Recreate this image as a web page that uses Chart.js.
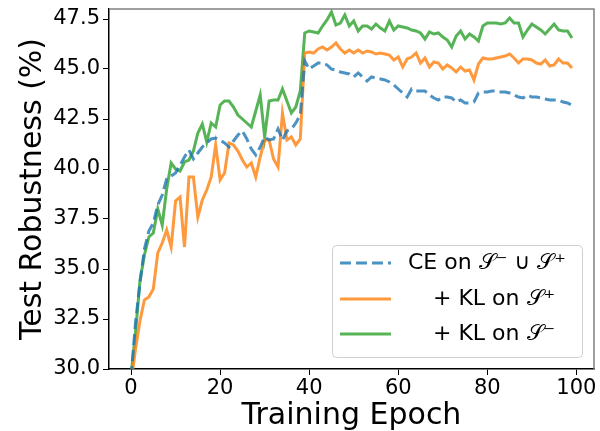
<!DOCTYPE html>
<html>
<head>
<meta charset="utf-8">
<script src="https://cdn.jsdelivr.net/npm/chart.js@4"></script>
<style>
  html, body { margin: 0; padding: 0; background: #fff; }
  #wrap { width: 600px; height: 431px; }
</style>
</head>
<body>
<div id="wrap"><canvas id="myChart" width="600" height="431"></canvas></div>
<script>
// epochs 0..99
const epochs = [...Array(100).keys()];

const seriesLabels = ['CE on \u{1D4AE}\u207B \u222A \u{1D4AE}\u207A', '+ KL on \u{1D4AE}\u207A', '+ KL on \u{1D4AE}\u207B'];

const ceValues = [
  29.6, 32.3, 34.3, 36.0, 36.9, 37.3, 38.2, 38.7, 39.5, 39.65,
  39.8, 40.2, 40.6, 40.95, 40.5, 40.8, 41.1, 41.3, 41.5, 41.55,
  41.45, 41.3, 41.1, 41.4, 41.7, 41.9, 41.5, 41.0, 40.7, 41.1,
  41.6, 41.45, 41.5, 42.0, 41.45, 41.9, 42.0, 42.3, 42.7, 45.4,
  45.0, 45.15, 45.3, 45.3, 45.2, 45.0, 44.95, 44.85, 44.8, 44.75,
  44.6, 44.8, 44.6, 44.4, 44.6, 44.55, 44.5, 44.45, 44.35, 44.2,
  44.0, 43.8, 43.6, 44.0, 43.9, 43.9, 43.9, 43.7, 43.55, 43.45,
  43.6, 43.6, 43.55, 43.35, 43.45, 43.3, 43.3, 43.35, 43.8, 43.85,
  43.85, 43.9, 43.9, 43.85, 43.85, 43.8, 43.7, 43.6, 43.55, 43.7,
  43.6, 43.6, 43.55, 43.5, 43.45, 43.45, 43.45, 43.35, 43.3, 43.2
];

const klPosValues = [
  29.3, 31.0, 32.4, 33.45, 33.6, 34.0, 35.8, 36.3, 36.95, 36.1,
  38.4, 38.6, 36.1, 39.6, 39.6, 37.6, 38.45, 38.95, 39.6, 41.2,
  39.45, 39.8, 41.3, 41.2, 40.9, 40.45, 40.1, 40.3, 39.6, 40.6,
  41.45, 41.45, 40.5, 40.1, 42.8, 41.45, 41.6, 41.2, 41.5, 45.8,
  45.85, 45.8, 46.0, 46.1, 45.95, 46.1, 46.3, 46.0, 45.8, 45.95,
  45.8, 45.95, 45.8, 45.9, 45.85, 45.75, 45.8, 45.75, 45.7, 45.45,
  45.6, 45.1, 45.5, 45.6, 45.8, 45.3, 45.55, 45.1, 45.35, 45.3,
  45.0, 45.2, 45.05, 44.85, 45.1, 44.9, 44.95, 44.45, 45.25, 45.55,
  45.5, 45.5, 45.55, 45.6, 45.65, 45.75, 45.55, 45.3, 45.5, 45.5,
  45.45, 45.3, 45.25, 45.45, 45.15, 45.2, 45.5, 45.3, 45.3, 45.05
];

const klNegValues = [
  29.7, 31.8, 34.4, 35.7, 36.6, 36.8, 38.0, 37.2, 39.0, 40.3,
  40.0, 39.9, 40.35, 40.45, 40.9, 41.8, 42.25, 41.35, 42.3, 42.1,
  43.2, 43.4, 43.4, 43.1, 42.7, 42.5, 42.3, 42.1, 42.9, 43.7,
  41.6, 43.4, 43.45, 43.45, 44.0, 43.4, 42.8, 43.1, 43.9, 46.8,
  46.9, 46.85, 46.8, 47.15, 47.45, 47.85, 47.2, 47.3, 47.7, 47.15,
  47.4, 46.9, 47.15, 47.15, 47.0, 47.25, 47.05, 46.9, 47.4, 46.95,
  47.15, 47.1, 47.05, 46.95, 46.9, 46.8, 46.5, 46.85, 46.75, 46.8,
  46.6, 46.45, 46.1, 46.65, 46.9, 46.5, 46.75, 46.6, 46.4, 47.15,
  47.3, 47.3, 47.3, 47.25, 47.3, 47.55, 47.3, 47.3, 46.6, 46.95,
  47.25, 47.1, 46.95, 46.75, 47.0, 47.25, 46.95, 46.9, 46.9, 46.55
];

const xTicks = [0, 20, 40, 60, 80, 100];
const yTicks = [30, 32.5, 35, 37.5, 40, 42.5, 45, 47.5];

const FONT = "'DejaVu Sans', sans-serif";

function toPoints(values) {
  return values.map((v, i) => ({ x: epochs[i], y: v }));
}

// draws top/right spines and the legend box inside the plot
const framePlugin = {
  id: 'framePlugin',
  afterDraw(chart) {
    const { ctx, chartArea } = chart;
    ctx.save();
    ctx.strokeStyle = '#808080';
    ctx.lineWidth = 1.5;
    ctx.beginPath();
    ctx.moveTo(chartArea.left, chartArea.top);
    ctx.lineTo(chartArea.right, chartArea.top);
    ctx.lineTo(chartArea.right, chartArea.bottom);
    ctx.stroke();

    // legend
    const bx = 332, by = 245, bw = 250, bh = 112;
    ctx.fillStyle = 'rgba(255,255,255,0.85)';
    ctx.strokeStyle = '#d0d0d0';
    ctx.lineWidth = 1;
    ctx.beginPath();
    ctx.roundRect(bx + 0.5, by + 0.5, bw, bh, 4);
    ctx.fill();
    ctx.stroke();

    const rowY = [263, 299, 334];
    const textX = [408, 433, 433];
    chart.data.datasets.forEach((ds, i) => {
      ctx.strokeStyle = ds.borderColor;
      ctx.lineWidth = ds.borderWidth;
      ctx.setLineDash(ds.borderDash || []);
      ctx.beginPath();
      ctx.moveTo(340, rowY[i]);
      ctx.lineTo(391, rowY[i]);
      ctx.stroke();
      ctx.setLineDash([]);
      ctx.fillStyle = '#000';
      ctx.font = '22px ' + FONT;
      ctx.textBaseline = 'middle';
      ctx.textAlign = 'left';
      ctx.fillText(ds.label, textX[i], rowY[i]);
    });
    ctx.restore();
  }
};

function mainEvent() {
  const target = document.querySelector('#myChart');

  const data = {
    datasets: [
      {
        label: seriesLabels[0],
        data: toPoints(ceValues),
        borderColor: 'rgba(31,119,180,0.8)',
        borderWidth: 3,
        borderDash: [11, 5],
        pointRadius: 0,
        tension: 0
      },
      {
        label: seriesLabels[1],
        data: toPoints(klPosValues),
        borderColor: 'rgba(255,127,14,0.8)',
        borderWidth: 3,
        pointRadius: 0,
        tension: 0
      },
      {
        label: seriesLabels[2],
        data: toPoints(klNegValues),
        borderColor: 'rgba(44,160,44,0.8)',
        borderWidth: 3,
        pointRadius: 0,
        tension: 0
      }
    ]
  };

  const config = {
    type: 'line',
    data: data,
    plugins: [framePlugin],
    options: {
      responsive: false,
      animation: false,
      layout: { padding: { top: 9, right: 6, left: 0, bottom: 0 } },
      plugins: { legend: { display: false }, tooltip: { enabled: false } },
      scales: {
        x: {
          type: 'linear',
          min: -4.95,
          max: 103.95,
          afterBuildTicks: (scale) => { scale.ticks = xTicks.map((v) => ({ value: v })); },
          afterFit: (scale) => {
            scale.height = 62;
            scale.paddingLeft = 0;
            scale.paddingRight = 0;
          },
          grid: { drawOnChartArea: false, tickLength: 6, tickColor: '#000', tickWidth: 1 },
          border: { color: '#000', width: 1.5 },
          ticks: { color: '#000', padding: 1, maxRotation: 0, font: { family: FONT, size: 21 }, callback: (v) => String(v) },
          title: { display: true, text: 'Training Epoch', color: '#000', padding: { bottom: 0, top: 0 }, font: { family: FONT, size: 30, lineHeight: 1 } }
        },
        y: {
          type: 'linear',
          min: 30,
          max: 48,
          afterBuildTicks: (scale) => { scale.ticks = yTicks.map((v) => ({ value: v })); },
          afterFit: (scale) => {
            scale.width = 109;
            scale.paddingTop = 0;
            scale.paddingBottom = 0;
          },
          grid: { drawOnChartArea: false, tickLength: 6, tickColor: '#000', tickWidth: 1 },
          border: { color: '#000', width: 1.5 },
          ticks: { color: '#000', padding: 3, font: { family: FONT, size: 21 }, callback: (v) => Number(v).toFixed(1) },
          title: { display: true, text: 'Test Robustness (%)', color: '#000', padding: { top: 18, bottom: 0 }, font: { family: FONT, size: 30, lineHeight: 1 } }
        }
      }
    }
  };

  return new Chart(target, config);
}

document.addEventListener('DOMContentLoaded', () => mainEvent());
</script>
</body>
</html>
